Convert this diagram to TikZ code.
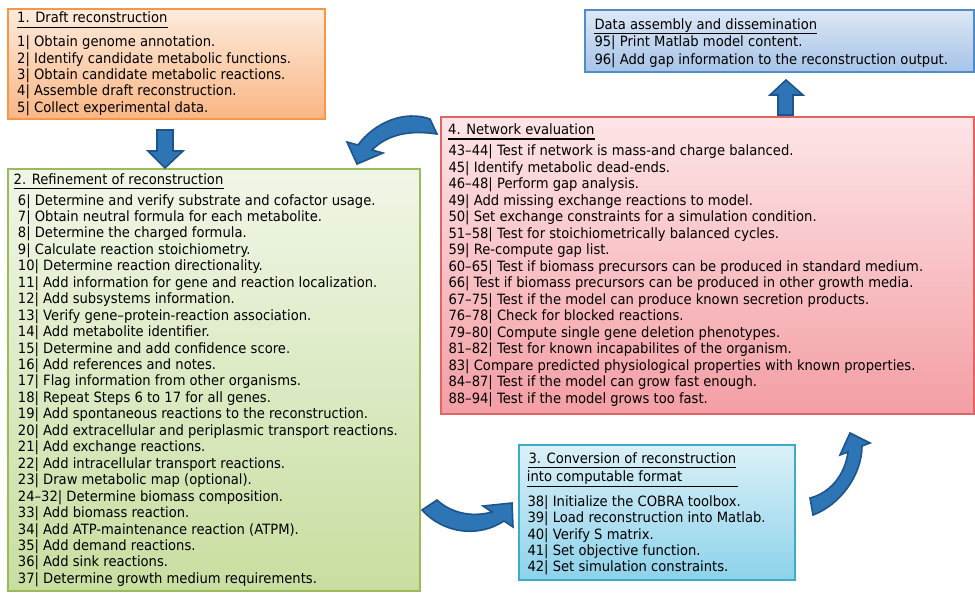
\documentclass[tikz,border=0pt]{standalone}
\usepackage{fontspec}
\setmainfont{DejaVu Sans}[FakeStretch=0.925]
\definecolor{oBd}{RGB}{247,150,70}
\definecolor{oTop}{RGB}{253,235,220}
\definecolor{oBot}{RGB}{249,182,132}
\definecolor{gBd}{RGB}{155,187,89}
\definecolor{gTop}{RGB}{240,246,231}
\definecolor{gBot}{RGB}{200,222,160}
\definecolor{rBd}{RGB}{226,100,100}
\definecolor{rTop}{RGB}{253,229,231}
\definecolor{rBot}{RGB}{243,158,164}
\definecolor{bBd}{RGB}{80,140,200}
\definecolor{bTop}{RGB}{221,232,245}
\definecolor{bBot}{RGB}{166,195,232}
\definecolor{cBd}{RGB}{60,172,200}
\definecolor{cTop}{RGB}{219,240,247}
\definecolor{cBot}{RGB}{140,210,234}
\definecolor{aFill}{RGB}{46,117,182}
\definecolor{aDraw}{RGB}{30,84,138}
\tikzset{
  txt/.style={anchor=base west, inner sep=0pt, font=\fontsize{14.2}{16}\selectfont, text=black},
  ul/.style={line width=1.1pt, black},
  boxsty/.style={line width=2pt},
  blockarrow/.style={fill=aFill, draw=aDraw, line width=1.6pt, line join=miter},
}
\begin{document}
\begin{tikzpicture}[x=1pt,y=-1pt]
\useasboundingbox (0,0) rectangle (975,592);
% ---- boxes
\shade[top color=oTop, bottom color=oBot] (8,9) rectangle (325,119);
\draw[boxsty, oBd] (8,9) rectangle (325,119);
\shade[top color=gTop, bottom color=gBot] (8,169) rectangle (420,591);
\draw[boxsty, gBd] (8,169) rectangle (420,591);
\shade[top color=rTop, bottom color=rBot] (441,117) rectangle (974,414);
\draw[boxsty, rBd] (441,117) rectangle (974,414);
\shade[top color=bTop, bottom color=bBot] (585,10) rectangle (974,72);
\draw[boxsty, bBd] (585,10) rectangle (974,72);
\shade[top color=cTop, bottom color=cBot] (519,445) rectangle (795,580);
\draw[boxsty, cBd] (519,445) rectangle (795,580);

% ---- box 1
\node[txt] (t1) at (17,22.7) {1. Draft reconstruction};
\draw[ul] ([yshift=-5pt]t1.base west) -- ([yshift=-5pt]t1.base east);
\foreach \s [count=\i] in {{1| Obtain genome annotation.},{2| Identify candidate metabolic functions.},{3| Obtain candidate metabolic reactions.},{4| Assemble draft reconstruction.},{5| Collect experimental data.}}
  \node[txt] (a\i) at (17,{46.7+16.4*(\i-1)}) {\s};

% ---- box 2
\node[txt] (t2) at (13.5,184) {2. Refinement of reconstruction};
\draw[ul] ([yshift=-4.5pt]t2.base west) -- ([yshift=-4.5pt]t2.base east);
\foreach \s [count=\i] in {{6| Determine and verify substrate and cofactor usage.},{7| Obtain neutral formula for each metabolite.},{8| Determine the charged formula.},{9| Calculate reaction stoichiometry.},{10| Determine reaction directionality.},{11| Add information for gene and reaction localization.},{12| Add subsystems information.},{13| Verify gene–protein-reaction association.},{14| Add metabolite identifier.},{15| Determine and add confidence score.},{16| Add references and notes.},{17| Flag information from other organisms.},{18| Repeat Steps 6 to 17 for all genes.},{19| Add spontaneous reactions to the reconstruction.},{20| Add extracellular and periplasmic transport reactions.},{21| Add exchange reactions.},{22| Add intracellular transport reactions.},{23| Draw metabolic map (optional).},{24–32| Determine biomass composition.},{33| Add biomass reaction.},{34| Add ATP-maintenance reaction (ATPM).},{35| Add demand reactions.},{36| Add sink reactions.},{37| Determine growth medium requirements.}}
  \node[txt] (b\i) at (17.7,{205+16.45*(\i-1)}) {\s};

% ---- box 4
\node[txt] (t4) at (448,134) {4. Network evaluation};
\draw[ul] ([yshift=-5pt]t4.base west) -- ([yshift=-5pt]t4.base east);
\foreach \s [count=\i] in {{43–44| Test if network is mass-and charge balanced.},{45| Identify metabolic dead-ends.},{46–48| Perform gap analysis.},{49| Add missing exchange reactions to model.},{50| Set exchange constraints for a simulation condition.},{51–58| Test for stoichiometrically balanced cycles.},{59| Re-compute gap list.},{60–65| Test if biomass precursors can be produced in standard medium.},{66| Test if biomass precursors can be produced in other growth media.},{67–75| Test if the model can produce known secretion products.},{76–78| Check for blocked reactions.},{79–80| Compute single gene deletion phenotypes.},{81–82| Test for known incapabilites of the organism.},{83| Compare predicted physiological properties with known properties.},{84–87| Test if the model can grow fast enough.},{88–94| Test if the model grows too fast.}}
  \node[txt] (d\i) at (448.3,{155.7+16.5*(\i-1)}) {\s};

% ---- data assembly box
\node[txt] (t5) at (594.3,29.3) {Data assembly and dissemination};
\draw[ul] ([yshift=-4pt]t5.base west) -- ([yshift=-4pt]t5.base east);
\node[txt] (e1) at (594.3,46.7) {95| Print Matlab model content.};
\node[txt] (e2) at (594.3,64) {96| Add gap information to the reconstruction output.};

% ---- box 3
\node[txt] (t3a) at (528.3,463.3) {3. Conversion of reconstruction};
\node[txt] (t3b) at (526.7,481.7) {into computable format};
\draw[ul] ([yshift=-4.5pt]t3a.base west) -- ([yshift=-4.5pt]t3a.base east);
\draw[ul] ([yshift=-5pt]t3b.base west) -- ([yshift=-5pt,xshift=1.6pt]t3b.base west -| t3a.base east);
\foreach \s [count=\i] in {{38| Initialize the COBRA toolbox.},{39| Load reconstruction into Matlab.},{40| Verify S matrix.},{41| Set objective function.},{42| Set simulation constraints.}}
  \node[txt] (c\i) at (527.3,{506.7+16.25*(\i-1)}) {\s};

% ---- arrows
\draw[blockarrow] (157,130) -- (173,130) -- (173,151) -- (183,151) -- (165,168) -- (148,151) -- (157,151) -- cycle;
\draw[blockarrow] (778,115) -- (793,115) -- (793,95) -- (803,95) -- (786,80) -- (770,95) -- (778,95) -- cycle;
\draw[blockarrow] (430,119) .. controls (405,110) and (375,122) .. (358,145) -- (347,142) -- (357,164) -- (383,153) -- (372,150) .. controls (388,134) and (410,130) .. (437,134) -- cycle;
\draw[blockarrow] (422,510) -- (437,500) .. controls (450,512) and (470,518) .. (492,512) -- (483,506) -- (512,503) -- (513,527) -- (504,521) .. controls (480,537) and (445,535) .. (422,510) -- cycle;
\draw[blockarrow] (810,498) .. controls (830,493) and (845,475) .. (848,452) -- (840,455) -- (850,433) -- (870,443) -- (862,446) .. controls (862,475) and (840,505) .. (813,515) -- cycle;
\end{tikzpicture}
\end{document}
